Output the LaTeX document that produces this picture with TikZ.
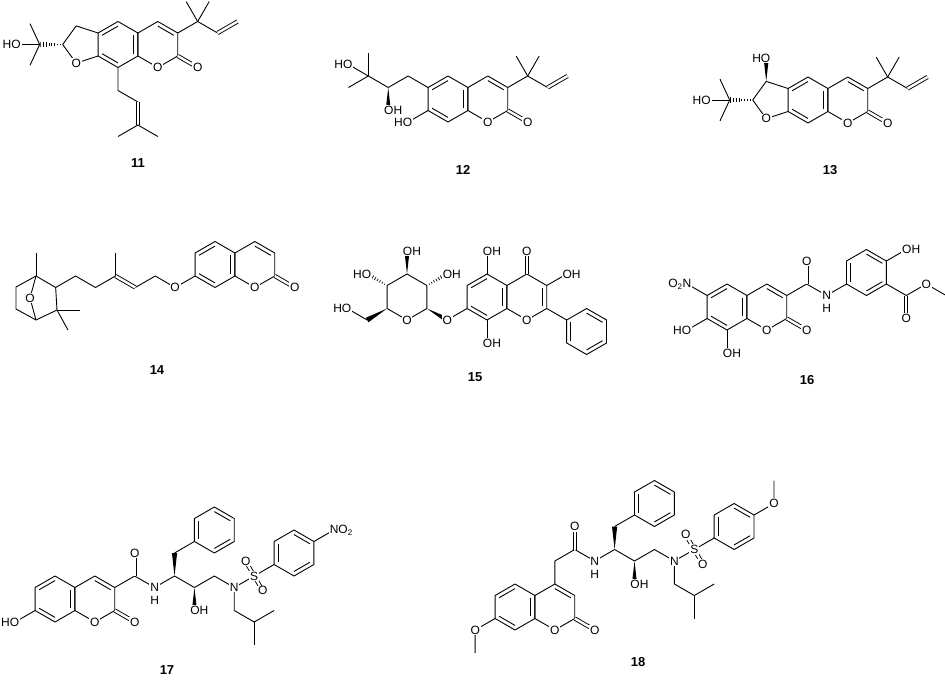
\documentclass[tikz,border=0pt]{standalone}
\usepackage{fontspec}
\setmainfont{Liberation Sans}
\usetikzlibrary{calc}

\def\L{23pt}
\newcommand\chemf{\fontsize{12}{13}\selectfont}
\newcommand\numf{\fontsize{13}{14}\selectfont\bfseries}
% hexagon: name, centre, start angle
\newcommand\hexring[3]{%
  \coordinate (#1c) at (#2);
  \foreach \k in {1,...,6}{\coordinate (#1\k) at ($(#1c)+(#3+60*\k-60:\L)$);}
  \draw (#11)--(#12)--(#13)--(#14)--(#15)--(#16)--cycle;}
\newcommand\inbond[3]{\draw ($(#1)!0.2!(#3)$) -- ($(#2)!0.2!(#3)$);}
\newcommand\solidb[2]{\fill (#1) -- ($(#2)!2.6pt!90:(#1)$) -- ($(#2)!2.6pt!-90:(#1)$) -- cycle;}
\newcommand\hashb[2]{\foreach \t in {0.12,0.24,...,0.97}{%
  \draw[line width=0.7pt] ($(#1)!\t!(#2)!{0.3pt+2.4pt*\t}!90:(#2)$) -- ($(#1)!\t!(#2)!{0.3pt+2.4pt*\t}!-90:(#2)$);}}
% coumarin core: name, x, y of the benzene centre
\newcommand\coum[3]{%
  \hexring{B#1}{#2,#3}{30}
  \hexring{P#1}{#2+39.84,#3}{30}
  \inbond{B#12}{B#13}{B#1c}\inbond{B#14}{B#15}{B#1c}\inbond{B#16}{B#11}{B#1c}
  \inbond{P#11}{P#12}{P#1c}
  \draw[dbl] (P#16) -- ++(-30:\L) coordinate (K#1);
  \node[lab] at (P#15) {O};
  \node[lab] at (K#1) {O};}
% dimethylallyl on C3
\newcommand\vinyl[1]{%
  \draw (P#11) -- ++(30:\L) coordinate (V#1) -- ++(120:\L);
  \draw (V#1) -- ++(60:\L);
  \draw (V#1) -- ++(-30:\L) coordinate (W#1);
  \draw[dbl] (W#1) -- ++(30:\L);}
% dihydrofuran on the left edge
\newcommand\furan[1]{%
  \coordinate (F#1) at ($(B#13)!0.5!(B#14)+(-15.83pt,0)$);
  \draw (B#13) -- ($(F#1)+(108:19.56pt)$) coordinate (F#12)
    -- ($(F#1)+(180:19.56pt)$) coordinate (F#13)
    -- ($(F#1)+(252:19.56pt)$) coordinate (F#14) -- (B#14);
  \coordinate (Q#1) at ($(F#13)+(180:\L)$);
  \hashb{F#13}{Q#1}
  \draw (Q#1) -- ++(115:\L);
  \draw (Q#1) -- ++(-115:\L);
  \draw (Q#1) -- ++(180:\L) coordinate (H#1);
  \node[lft] at (H#1) {HO};
  \node[lab] at (F#14) {O};}

\tikzset{
  lab/.style={fill=white,inner sep=0.8pt,font=\chemf},
  lft/.style={lab,anchor=east,xshift=5.3pt},
  rgt/.style={lab,anchor=west,xshift=-5.3pt},
  num/.style={font=\numf},
  dbl/.style={double,double distance=2.4pt}
}

\begin{document}
\begin{tikzpicture}[x=1pt,y=1pt,line width=0.9pt,line join=round]
\useasboundingbox (0,0) rectangle (945,-680);

% 11
\coum{a}{118}{-44.5}
\vinyl{a}
\draw (Ba5) -- ++(270:\L) -- ++(-30:\L) coordinate (Ra);
\draw[dbl] (Ra) -- ++(270:\L) coordinate (Sa);
\draw (Sa) -- ++(210:\L);
\draw (Sa) -- ++(-30:\L);
\furan{a}
\node[num] at (138,-163) {11};

% 12
\coum{b}{448}{-99}
\vinyl{b}
\draw (Bb3) -- ++(150:\L) -- ++(210:\L) coordinate (Cb);
\coordinate (Ob) at ($(Cb)+(270:\L)$);
\solidb{Cb}{Ob}
\draw (Cb) -- ++(150:\L) coordinate (Db);
\draw (Db) -- ++(90:\L);
\draw (Db) -- ++(210:\L);
\draw (Db) -- ++(150:\L) coordinate (Eb);
\draw (Bb4) -- ++(210:\L) coordinate (Hb);
\node[rgt] at (Ob) {OH};
\node[lft] at (Hb) {HO};
\node[lft] at (Eb) {HO};
\node[num] at (463,-170) {12};

% 13
\coum{c}{808}{-100}
\vinyl{c}
\furan{c}
\coordinate (Oc) at ($(Fc2)+(90:\L)$);
\solidb{Fc2}{Oc}
\node[lft] at (Oc) {HO};
\node[num] at (830,-170) {13};

% 14
\coum{d}{215}{-264.5}
\draw (Bd4) -- ++(210:\L) coordinate (Od) -- ++(150:\L) -- ++(210:\L) coordinate (Ed);
\draw[dbl] (Ed) -- ++(150:\L) coordinate (Gd);
\draw (Gd) -- ++(90:\L);
\draw (Gd) -- ++(210:\L) -- ++(150:\L) -- ++(210:\L) coordinate (Jd);
\coordinate (Td) at (36,-276);
\coordinate (Ld) at (36,-320);
\coordinate (Kd) at (57,-310);
\coordinate (Ud) at (16,-287);
\coordinate (Vd) at (16,-309);
\coordinate (Xd) at (30,-298);
\draw (Jd) -- (Td) -- (Ud) -- (Vd) -- (Ld) -- (Kd) -- (Jd);
\draw (Td) -- ++(90:\L);
\draw (Kd) -- (80,-310);
\draw (Kd) -- (68,-330);
\draw (Td) -- (Xd) -- (Ld);
\node[lab] at (Xd) {O};
\node[lab] at (Od) {O};
\node[num] at (157,-370) {14};

% 15
\hexring{Ae}{487,-297}{30}
\hexring{Ce}{526.84,-297}{30}
\inbond{Ae2}{Ae3}{Aec}\inbond{Ae4}{Ae5}{Aec}\inbond{Ae6}{Ae1}{Aec}
\inbond{Ce1}{Ce6}{Cec}
\hexring{Fe}{$(Ce6)+(-30:46pt)$}{30}
\inbond{Fe1}{Fe2}{Fec}\inbond{Fe3}{Fe4}{Fec}\inbond{Fe5}{Fe6}{Fec}
\draw (Ce6) -- (Fe3);
\draw (Ae2) -- ++(90:\L) coordinate (O5e);
\draw (Ae5) -- ++(270:\L) coordinate (O8e);
\draw (Ae4) -- ++(210:\L) coordinate (Ge);
\draw[dbl] (Ce2) -- ++(90:\L) coordinate (O4e);
\draw (Ce1) -- ++(30:\L) coordinate (O3e);
\hexring{Se}{407,-297}{30}
\solidb{Se6}{Ge}
\coordinate (O2e) at ($(Se1)+(30:\L)$);
\hashb{Se1}{O2e}
\coordinate (O3s) at ($(Se2)+(90:\L)$);
\solidb{Se2}{O3s}
\coordinate (O4s) at ($(Se3)+(150:\L)$);
\hashb{Se3}{O4s}
\coordinate (Me) at ($(Se4)+(210:\L)$);
\solidb{Se4}{Me}
\draw (Me) -- ++(150:\L) coordinate (O6e);
\node[lab] at (Ce5) {O};
\node[lab] at (Se5) {O};
\node[lab] at (Ge) {O};
\node[lab] at (O4e) {O};
\node[rgt] at (O5e) {OH};
\node[rgt] at (O8e) {OH};
\node[rgt] at (O3e) {OH};
\node[rgt] at (O2e) {OH};
\node[rgt] at (O3s) {OH};
\node[lft] at (O4s) {HO};
\node[lft] at (O6e) {HO};
\node[num] at (475,-377) {15};

% 16
\coum{f}{727}{-307}
\draw (Bf3) -- ++(150:\L) coordinate (Nx);
\draw (Bf4) -- ++(210:\L) coordinate (H7f);
\draw (Bf5) -- ++(270:\L) coordinate (H8f);
\draw (Pf1) -- ++(30:\L) coordinate (Cf) -- ++(-30:\L) coordinate (Nf);
\draw[dbl] (Cf) -- ++(90:\L) coordinate (OCf);
\hexring{Rf}{$(Nf)+(30:46pt)$}{30}
\inbond{Rf1}{Rf2}{Rfc}\inbond{Rf3}{Rf4}{Rfc}\inbond{Rf5}{Rf6}{Rfc}
\draw (Nf) -- (Rf4);
\draw (Rf1) -- ++(30:\L) coordinate (OHf);
\draw (Rf6) -- ++(-30:\L) coordinate (Ef);
\draw[dbl] (Ef) -- ++(270:\L) coordinate (OEf);
\draw (Ef) -- ++(30:\L) coordinate (OMf) -- ++(-30:\L);
\node[lab,anchor=east,xshift=5.3pt] at (Nx) {O\textsubscript{2}N};
\node[lft] at (H7f) {HO};
\node[rgt] at (H8f) {OH};
\node[lab] at (OCf) {O};
\node[lab] at (Nf) {N};
\node[lab] at ($(Nf)+(0,-13)$) {H};
\node[rgt] at (OHf) {OH};
\node[lab] at (OEf) {O};
\node[lab] at (OMf) {O};
\node[num] at (807,-380) {16};

% 17
\coum{g}{55}{-599}
\draw (Bg4) -- ++(210:\L) coordinate (Hg);
\draw (Pg1) -- ++(30:\L) coordinate (Cg) -- ++(-30:\L) coordinate (Ng) -- ++(30:\L) coordinate (Dg);
\draw[dbl] (Cg) -- ++(90:\L) coordinate (OCg);
\coordinate (Eg) at ($(Dg)+(90:\L)$);
\solidb{Dg}{Eg}
\hexring{Ag}{$(Eg)+(30:46pt)$}{30}
\inbond{Ag1}{Ag2}{Agc}\inbond{Ag3}{Ag4}{Agc}\inbond{Ag5}{Ag6}{Agc}
\draw (Eg) -- (Ag4);
\draw (Dg) -- ++(-30:\L) coordinate (Fg);
\coordinate (OFg) at ($(Fg)+(270:\L)$);
\solidb{Fg}{OFg}
\draw (Fg) -- ++(30:\L) -- ++(-30:\L) coordinate (Mg) -- ++(30:\L) coordinate (Sg);
\draw[dbl] (Sg) -- ++(120:17pt) coordinate (S1g);
\draw[dbl] (Sg) -- ++(-60:17pt) coordinate (S2g);
\hexring{Rg}{$(Sg)+(30:46pt)$}{30}
\inbond{Rg1}{Rg2}{Rgc}\inbond{Rg3}{Rg4}{Rgc}\inbond{Rg5}{Rg6}{Rgc}
\draw (Sg) -- (Rg4);
\draw (Rg1) -- ++(30:\L) coordinate (Xg);
\draw (Mg) -- ++(270:\L) -- ++(-30:\L) coordinate (Ig);
\draw (Ig) -- ++(30:\L);
\draw (Ig) -- ++(270:\L);
\node[lft] at (Hg) {HO};
\node[lab] at (OCg) {O};
\node[lab] at (Ng) {N};
\node[lab] at ($(Ng)+(0,-13)$) {H};
\node[rgt] at (OFg) {OH};
\node[lab] at (Mg) {N};
\node[lab] at (Sg) {S};
\node[lab] at (S1g) {O};
\node[lab] at (S2g) {O};
\node[lab,anchor=west,xshift=-5.3pt] at (Xg) {NO\textsubscript{2}};
\node[num] at (167,-670) {17};

% 18
\coum{h}{515}{-607}
\draw (Bh4) -- ++(210:\L) coordinate (Oh) -- ++(270:\L);
\draw (Ph2) -- ++(90:\L) -- ++(30:\L) coordinate (Ch) -- ++(-30:\L) coordinate (Nh) -- ++(30:\L) coordinate (Dh);
\draw[dbl] (Ch) -- ++(90:\L) coordinate (OCh);
\coordinate (Eh) at ($(Dh)+(90:\L)$);
\solidb{Dh}{Eh}
\hexring{Ah}{$(Eh)+(30:46pt)$}{30}
\inbond{Ah1}{Ah2}{Ahc}\inbond{Ah3}{Ah4}{Ahc}\inbond{Ah5}{Ah6}{Ahc}
\draw (Eh) -- (Ah4);
\draw (Dh) -- ++(-30:\L) coordinate (Fh);
\coordinate (OFh) at ($(Fh)+(270:\L)$);
\solidb{Fh}{OFh}
\draw (Fh) -- ++(30:\L) -- ++(-30:\L) coordinate (Mh) -- ++(30:\L) coordinate (Sh);
\draw[dbl] (Sh) -- ++(120:17pt) coordinate (S1h);
\draw[dbl] (Sh) -- ++(-60:17pt) coordinate (S2h);
\hexring{Rh}{$(Sh)+(30:46pt)$}{30}
\inbond{Rh1}{Rh2}{Rhc}\inbond{Rh3}{Rh4}{Rhc}\inbond{Rh5}{Rh6}{Rhc}
\draw (Sh) -- (Rh4);
\draw (Rh1) -- ++(30:\L) coordinate (Xh) -- ++(90:\L);
\draw (Mh) -- ++(270:\L) -- ++(-30:\L) coordinate (Ih);
\draw (Ih) -- ++(30:\L);
\draw (Ih) -- ++(270:\L);
\node[lab] at (Oh) {O};
\node[lab] at (OCh) {O};
\node[lab] at (Nh) {N};
\node[lab] at ($(Nh)+(0,-13)$) {H};
\node[rgt] at (OFh) {OH};
\node[lab] at (Mh) {N};
\node[lab] at (Sh) {S};
\node[lab] at (S1h) {O};
\node[lab] at (S2h) {O};
\node[lab] at (Xh) {O};
\node[num] at (638,-662) {18};
\end{tikzpicture}
\end{document}
